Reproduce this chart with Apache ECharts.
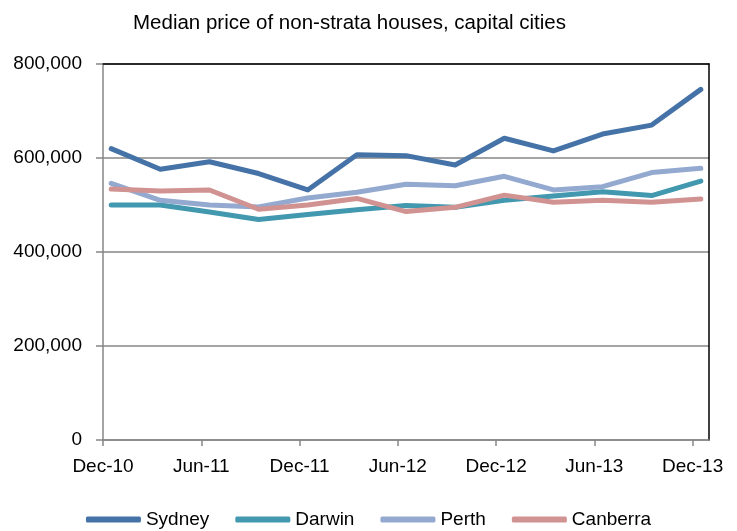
<!DOCTYPE html>
<html>
<head>
<meta charset="utf-8">
<script src="https://cdn.jsdelivr.net/npm/echarts@6/dist/echarts.min.js"></script>
<style>
    html, body { margin: 0; padding: 0; background: #fff; }
    #chart { width: 737px; height: 531px; }
</style>
</head>
<body>
<div id="chart"></div>
<script>
// 季度（Dec-10 到 Dec-13）
var quarters = ["Dec-10", "Mar-11", "Jun-11", "Sep-11", "Dec-11", "Mar-12", "Jun-12",
    "Sep-12", "Dec-12", "Mar-13", "Jun-13", "Sep-13", "Dec-13"];
// x轴刻度文字（每半年一个）
var tickLabels = ["Dec-10", "Jun-11", "Dec-11", "Jun-12", "Dec-12", "Jun-13", "Dec-13"];
// 各城市中位价
var sydney = [620000, 576000, 592000, 567000, 532000, 607000, 605000, 585000, 642000, 615000, 651000, 670000, 746000];
var darwin = [500000, 500000, 485000, 469000, 480000, 490000, 499000, 495000, 510000, 519000, 528000, 520000, 551000];
var perth = [546000, 510000, 500000, 496000, 515000, 527000, 544000, 541000, 561000, 532000, 539000, 569000, 578000];
var canberra = [534000, 530000, 532000, 491000, 500000, 514000, 486000, 495000, 521000, 506000, 510000, 506000, 513000];

(function () {
    var myChart = echarts.init(document.getElementById("chart"));
    var font = "Liberation Sans";

    // x轴用月份计数（Dec-10 = 0），数据点落在月中
    function toPoints(values) {
        return values.map(function (v, i) {
            return [i * 3 + 0.5, v];
        });
    }
    var tickMonths = tickLabels.map(function (t, i) { return i * 6; });

    function line(name, color, data) {
        return {
            name: name,
            type: "line",
            data: toPoints(data),
            showSymbol: false,
            symbol: "none",
            animation: false,
            lineStyle: { color: color, width: 5, cap: "round", join: "round" },
            itemStyle: { color: color },
        };
    }

    var option = {
        title: {
            text: "Median price of non-strata houses, capital cities",
            left: 128,
            top: 8,
            textStyle: { fontFamily: font, fontSize: 20.5, fontWeight: "normal", color: "#000" },
        },
        legend: {
            top: 505,
            left: "center",
            icon: "roundRect",
            itemWidth: 55,
            itemHeight: 6,
            itemGap: 26,
            textStyle: { fontFamily: font, fontSize: 19, color: "#000" },
            data: ["Sydney", "Darwin", "Perth", "Canberra"],
        },
        grid: { left: 103, right: 28, top: 64, bottom: 91 },
        xAxis: [
            {
                type: "value",
                min: 0,
                max: 37,
                splitLine: { show: false },
                axisLine: { onZero: false, lineStyle: { color: "#868686", width: 1.5 } },
                axisTick: { customValues: tickMonths, length: 6, lineStyle: { color: "#868686", width: 1.5 } },
                axisLabel: {
                    customValues: tickMonths,
                    margin: 17,
                    color: "#000",
                    fontFamily: font,
                    fontSize: 19,
                    formatter: function (v) { return tickLabels[Math.round(v / 6)]; },
                },
            },
            {
                // 顶部边框
                type: "value",
                position: "top",
                min: 0,
                max: 37,
                splitLine: { show: false },
                axisLine: { show: true, onZero: false, lineStyle: { color: "#000", width: 1.5 } },
                axisTick: { show: false },
                axisLabel: { show: false },
            },
        ],
        yAxis: [
            {
                type: "value",
                min: 0,
                max: 800000,
                interval: 200000,
                axisLine: { show: true, onZero: false, lineStyle: { color: "#868686", width: 1.5 } },
                axisTick: { show: true, length: 7, lineStyle: { color: "#868686", width: 1.5 } },
                splitLine: { lineStyle: { color: "#868686", width: 1.5 } },
                axisLabel: {
                    margin: 21,
                    color: "#000",
                    fontFamily: font,
                    fontSize: 19,
                    formatter: function (v) { return v.toLocaleString("en-US"); },
                },
            },
            {
                // 右侧边框
                type: "value",
                position: "right",
                min: 0,
                max: 800000,
                interval: 200000,
                splitLine: { show: false },
                axisLine: { show: true, onZero: false, lineStyle: { color: "#000", width: 1.5 } },
                axisTick: { show: false },
                axisLabel: { show: false },
            },
        ],
        series: [
            line("Sydney", "#4572A7", sydney),
            line("Darwin", "#4198AF", darwin),
            line("Perth", "#93A9CF", perth),
            line("Canberra", "#D19392", canberra),
        ],
    };
    myChart.setOption(option);
})();
</script>
</body>
</html>
